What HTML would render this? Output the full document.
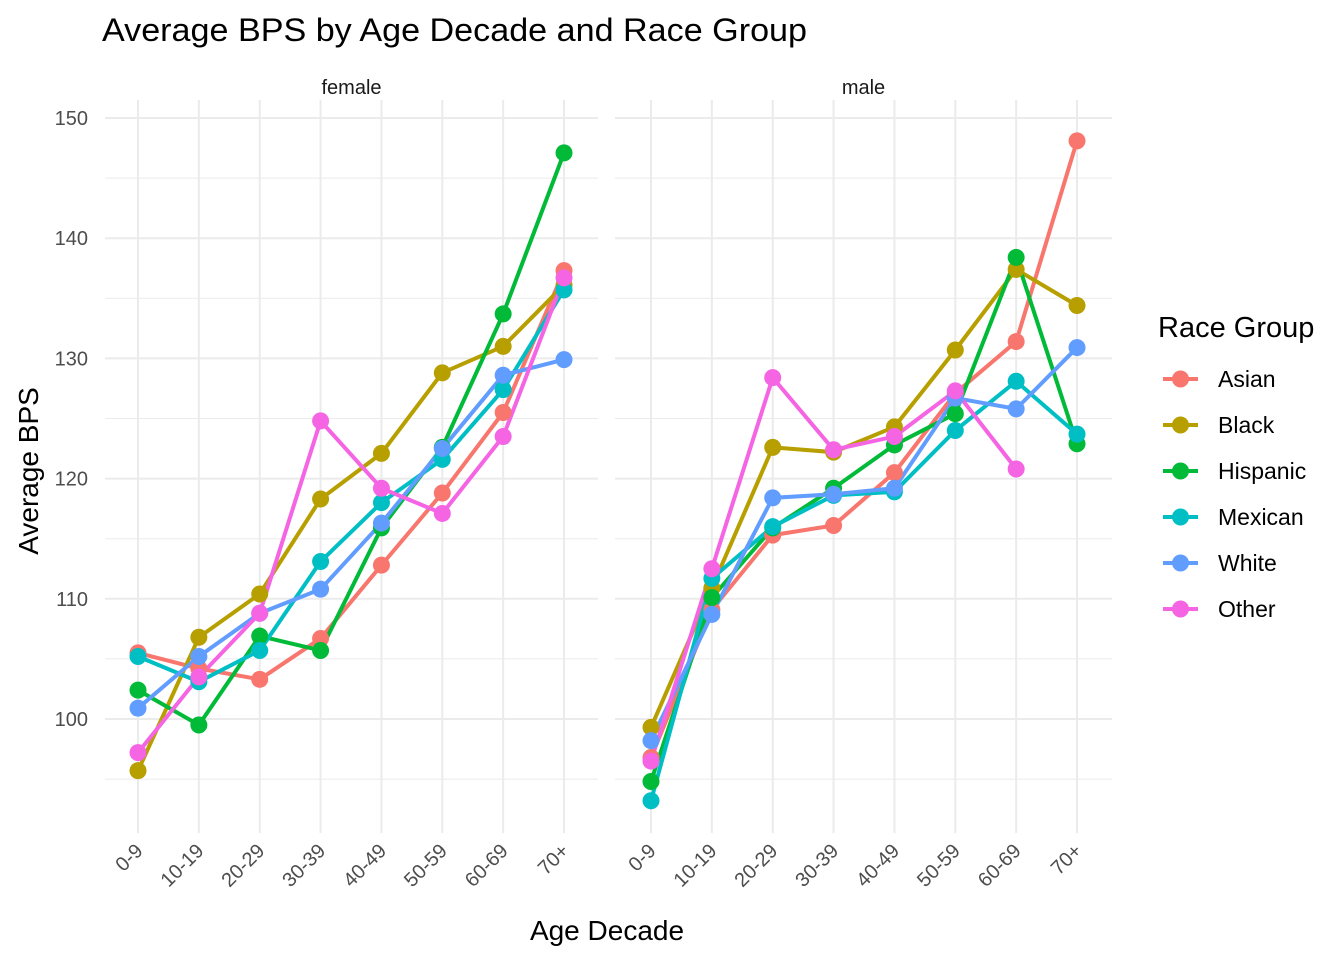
<!DOCTYPE html>
<html><head><meta charset="utf-8"><style>
body{margin:0;background:#fff;}
svg{display:block;font-family:"Liberation Sans",Arial,sans-serif;}
</style></head><body>
<svg id="chart" width="1344" height="960"></svg>
<script>
const categories=["0-9","10-19","20-29","30-39","40-49","50-59","60-69","70+"];
const races=["Asian","Black","Hispanic","Mexican","White","Other"];
const colors=["#F8766D","#B79F00","#00BA38","#00BFC4","#619CFF","#F564E3"];
const yTicks=[100,110,120,130,140,150];
const femaleAsian=[105.5,104.2,103.3,106.7,112.8,118.8,125.5,137.3];
const femaleBlack=[95.7,106.8,110.4,118.3,122.1,128.8,131.0,136.1];
const femaleHispanic=[102.4,99.5,106.9,105.7,115.9,122.6,133.7,147.1];
const femaleMexican=[105.2,103.1,105.7,113.1,118.0,121.6,127.4,135.7];
const femaleWhite=[100.9,105.2,108.8,110.8,116.3,122.5,128.6,129.9];
const femaleOther=[97.2,103.5,108.8,124.8,119.2,117.1,123.5,136.7];
const maleAsian=[96.8,109.1,115.3,116.1,120.5,127.1,131.4,148.1];
const maleBlack=[99.3,110.9,122.6,122.2,124.3,130.7,137.4,134.4];
const maleHispanic=[94.8,110.1,115.9,119.2,122.8,125.4,138.4,122.9];
const maleMexican=[93.2,111.7,116.0,118.6,118.9,124.0,128.1,123.7];
const maleWhite=[98.2,108.7,118.4,118.7,119.2,126.7,125.8,130.9];
const maleOther=[96.5,112.5,128.4,122.4,123.5,127.3,120.8,null];
const panels=[
 {name:"female",x0:105,x1:598,first:138,series:[femaleAsian,femaleBlack,femaleHispanic,femaleMexican,femaleWhite,femaleOther]},
 {name:"male",x0:615,x1:1112,first:651,series:[maleAsian,maleBlack,maleHispanic,maleMexican,maleWhite,maleOther]}
];
const NS="http://www.w3.org/2000/svg";
const svg=document.getElementById('chart');
function mk(tag,attrs,parent){const e=document.createElementNS(NS,tag);for(const k in attrs)e.setAttribute(k,attrs[k]);(parent||svg).appendChild(e);return e;}
const yTop=100,yBot=833;
function y(v){return 719-(v-100)*12.02;}
const step=60.86;
function xf(p,i){return p.first+i*step;}
panels.forEach((p,pi)=>{
 const g=mk('g',{});
 
 
 for(let v=95;v<=150;v+=5){const l=mk('line',{x1:p.x0,x2:p.x1,y1:y(v),y2:y(v),stroke:"#ebebeb","stroke-width":v%10===0?2:1},g);
  }
 categories.forEach((c,i)=>{const l=mk('line',{x1:xf(p,i),x2:xf(p,i),y1:yTop,y2:yBot,stroke:"#ebebeb","stroke-width":2},g);
  
  const t=mk('text',{transform:`translate(${xf(p,i)+6},${852}) rotate(-45)`,"text-anchor":"end","font-size":20,fill:"#4d4d4d"},g);t.textContent=c;
  });
 const st=mk('text',{x:(p.x0+p.x1)/2,y:94,"text-anchor":"middle","font-size":20,fill:"#1a1a1a"},g);st.textContent=p.name;
 
 p.series.forEach((s,si)=>{
  let d="";let pen=false;
  s.forEach((v,i)=>{if(v==null){pen=false;return;}d+=(pen?"L":"M")+xf(p,i)+","+y(v);pen=true;});
  const path=mk('path',{d:d,fill:"none",stroke:colors[si],"stroke-width":4},g);
  
  
 });
 p.series.forEach((s,si)=>{s.forEach((v,i)=>{if(v==null)return;
  const c=mk('circle',{cx:xf(p,i),cy:y(v),r:8.5,fill:colors[si]},g);
  
  });});
});
yTicks.forEach(v=>{const t=mk('text',{x:88,y:y(v)+7,"text-anchor":"end","font-size":20,fill:"#4d4d4d"});t.textContent=v;
 });
let t=mk('text',{x:102,y:41,"font-size":32,fill:"#000",textLength:705,lengthAdjust:"spacingAndGlyphs"});t.textContent="Average BPS by Age Decade and Race Group";

t=mk('text',{x:607,y:940,"text-anchor":"middle","font-size":28,fill:"#000"});t.textContent="Age Decade";

t=mk('text',{transform:"translate(38,471) rotate(-90)","text-anchor":"middle","font-size":28,fill:"#000"});t.textContent="Average BPS";

t=mk('text',{x:1158,y:337,"font-size":29,fill:"#000"});t.textContent="Race Group";

races.forEach((r,i)=>{const yy=379+i*46;const g=mk('g',{});
 
 mk('line',{x1:1163,x2:1198,y1:yy,y2:yy,stroke:colors[i],"stroke-width":4},g);
 mk('circle',{cx:1180.5,cy:yy,r:8.5,fill:colors[i]},g);
 const tt=mk('text',{x:1218,y:yy+8,"font-size":23,fill:"#000"},g);tt.textContent=r;});
</script>
</body></html>
